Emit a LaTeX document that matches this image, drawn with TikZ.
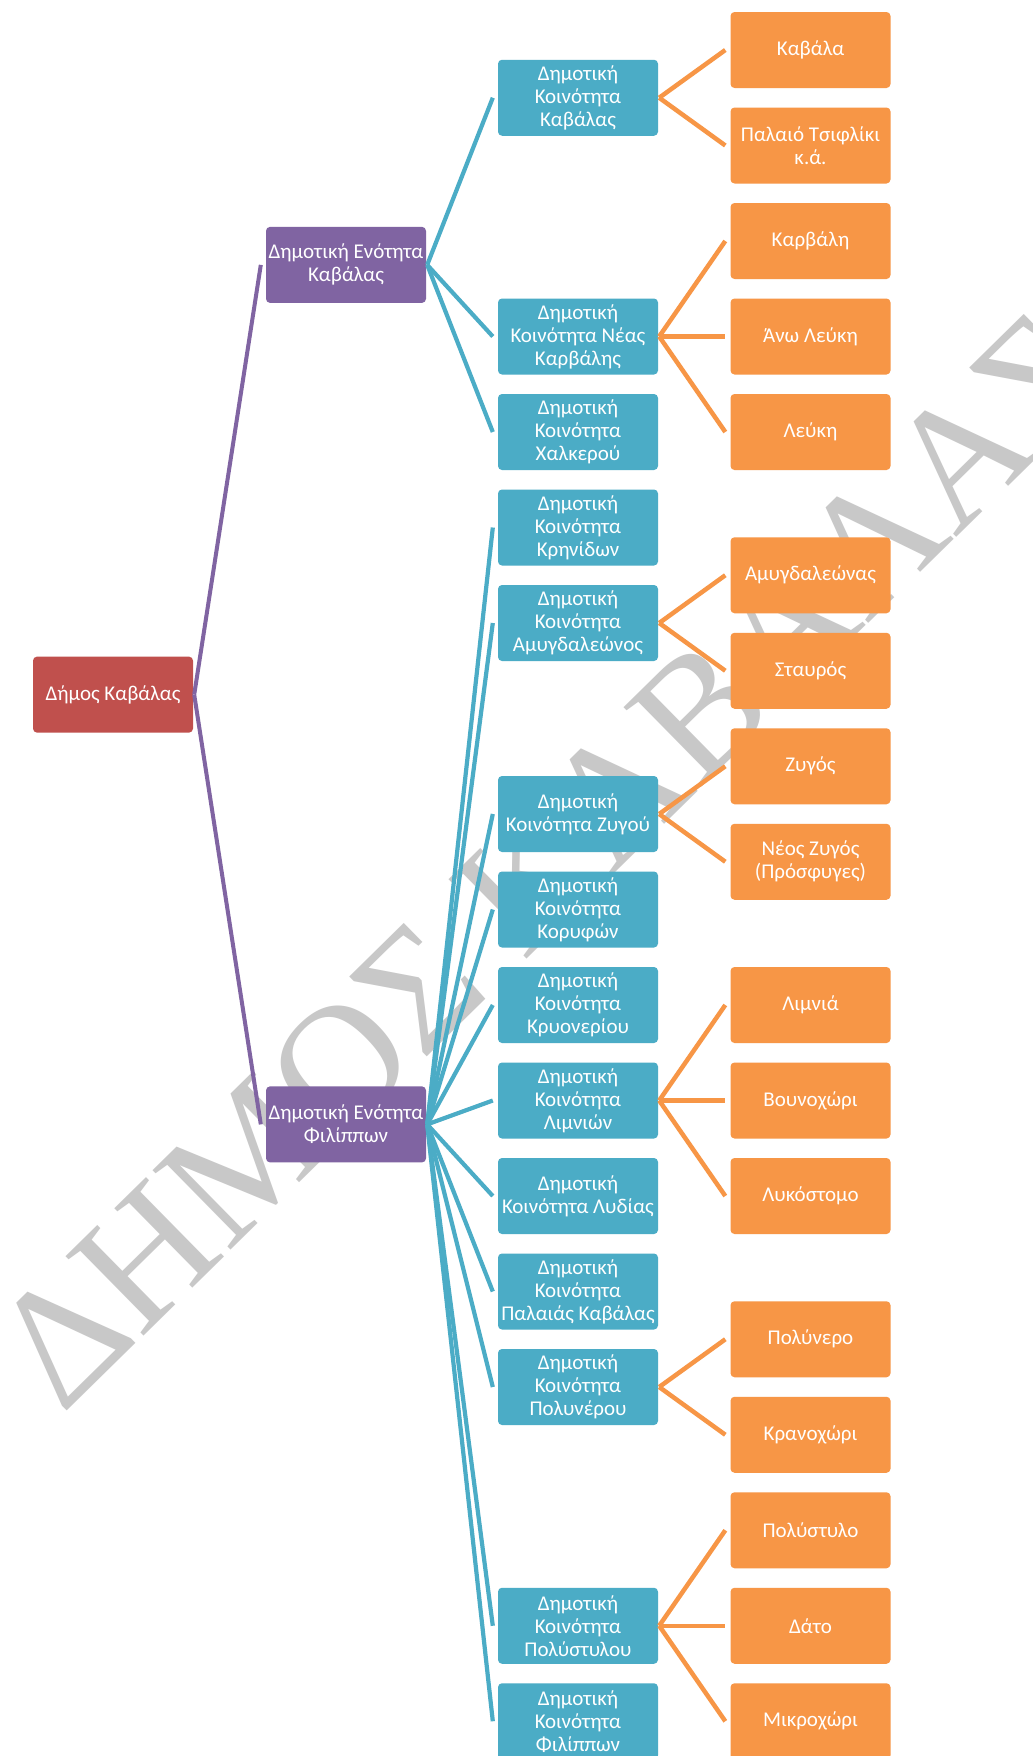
\documentclass[tikz,border=0pt]{standalone}
\usepackage{fontspec}
\setmainfont{Carlito}
\newfontfamily\wmfont{Liberation Serif}
\definecolor{cRoot}{HTML}{C0504D}
\definecolor{cPur}{HTML}{8064A2}
\definecolor{cTeal}{HTML}{4BACC6}
\definecolor{cOra}{HTML}{F79646}
\definecolor{cWm}{HTML}{C8C8C8}
\begin{document}
\begin{tikzpicture}[x=1pt,y=-1pt,
  box/.style={rounded corners=4pt, minimum width=160pt, minimum height=76pt, inner sep=1pt,
    text=white, align=center, font=\fontsize{21}{23}\selectfont},
  rootbox/.style={box, fill=cRoot},
  purbox/.style={box, fill=cPur},
  tealbox/.style={box, fill=cTeal},
  orabox/.style={box, fill=cOra},
  purline/.style={draw=cPur, line width=4pt},
  tealline/.style={draw=cTeal, line width=4.2pt},
  oraline/.style={draw=cOra, line width=4.5pt},
  wm/.style={text=cWm, font=\wmfont\fontsize{170}{170}\selectfont, inner sep=0pt}
]
\useasboundingbox (0,0) rectangle (1033,1756);
\fill[white] (0,0) rectangle (1033,1756);
% watermark
\node[wm, rotate=44.5, anchor=base west] (wmark) at (62,1416) {ΔΗΜΟΣ ΚΑΒΑΛΑΣ};
% nodes
\def\sy#1{50+95.5*#1}
\node[rootbox] (root) at (113,{\sy{6.75}}) {Δήμος Καβάλας};
\node[purbox] (pk) at (346,{\sy{2.25}}) {Δημοτική Ενότητα\\Καβάλας};
\node[purbox] (pf) at (346,{\sy{11.25}}) {Δημοτική Ενότητα\\Φιλίππων};
\node[tealbox] (t1) at (578,{\sy{0.5}}) {Δημοτική\\Κοινότητα\\Καβάλας};
\node[tealbox] (t2) at (578,{\sy{3}}) {Δημοτική\\Κοινότητα Νέας\\Καρβάλης};
\node[tealbox] (t3) at (578,{\sy{4}}) {Δημοτική\\Κοινότητα\\Χαλκερού};
\node[tealbox] (t4) at (578,{\sy{5}}) {Δημοτική\\Κοινότητα\\Κρηνίδων};
\node[tealbox] (t5) at (578,{\sy{6}}) {Δημοτική\\Κοινότητα\\Αμυγδαλεώνος};
\node[tealbox] (t6) at (578,{\sy{8}}) {Δημοτική\\Κοινότητα Ζυγού};
\node[tealbox] (t7) at (578,{\sy{9}}) {Δημοτική\\Κοινότητα\\Κορυφών};
\node[tealbox] (t8) at (578,{\sy{10}}) {Δημοτική\\Κοινότητα\\Κρυονερίου};
\node[tealbox] (t9) at (578,{\sy{11}}) {Δημοτική\\Κοινότητα\\Λιμνιών};
\node[tealbox] (t10) at (578,{\sy{12}}) {Δημοτική\\Κοινότητα Λυδίας};
\node[tealbox] (t11) at (578,{\sy{13}}) {Δημοτική\\Κοινότητα\\Παλαιάς Καβάλας};
\node[tealbox] (t12) at (578,{\sy{14}}) {Δημοτική\\Κοινότητα\\Πολυνέρου};
\node[tealbox] (t13) at (578,{\sy{16.5}}) {Δημοτική\\Κοινότητα\\Πολύστυλου};
\node[tealbox] (t14) at (578,{\sy{17.5}}) {Δημοτική\\Κοινότητα\\Φιλίππων};
\node[orabox] (o1) at (810.5,{\sy{0}}) {Καβάλα};
\node[orabox] (o2) at (810.5,{\sy{1}}) {Παλαιό Τσιφλίκι\\κ.ά.};
\node[orabox] (o3) at (810.5,{\sy{2}}) {Καρβάλη};
\node[orabox] (o4) at (810.5,{\sy{3}}) {Άνω Λεύκη};
\node[orabox] (o5) at (810.5,{\sy{4}}) {Λεύκη};
\node[orabox] (o6) at (810.5,{\sy{5.5}}) {Αμυγδαλεώνας};
\node[orabox] (o7) at (810.5,{\sy{6.5}}) {Σταυρός};
\node[orabox] (o8) at (810.5,{\sy{7.5}}) {Ζυγός};
\node[orabox] (o9) at (810.5,{\sy{8.5}}) {Νέος Ζυγός\\(Πρόσφυγες)};
\node[orabox] (o10) at (810.5,{\sy{10}}) {Λιμνιά};
\node[orabox] (o11) at (810.5,{\sy{11}}) {Βουνοχώρι};
\node[orabox] (o12) at (810.5,{\sy{12}}) {Λυκόστομο};
\node[orabox] (o13) at (810.5,{\sy{13.5}}) {Πολύνερο};
\node[orabox] (o14) at (810.5,{\sy{14.5}}) {Κρανοχώρι};
\node[orabox] (o15) at (810.5,{\sy{15.5}}) {Πολύστυλο};
\node[orabox] (o16) at (810.5,{\sy{16.5}}) {Δάτο};
\node[orabox] (o17) at (810.5,{\sy{17.5}}) {Μικροχώρι};
% connectors
\foreach \c in {pk,pf}
  \draw[purline] ([xshift=1pt]root.east) -- ([xshift=-5pt]\c.west);
\foreach \c in {t1,t2,t3}
  \draw[tealline] ([xshift=1pt]pk.east) -- ([xshift=-5pt]\c.west);
\foreach \c in {t4,t5,t6,t7,t8,t9,t10,t11,t12,t13,t14}
  \draw[tealline] ([xshift=1pt]pf.east) -- ([xshift=-5pt]\c.west);
\foreach \p/\c in {t1/o1,t1/o2,t2/o3,t2/o4,t2/o5,t5/o6,t5/o7,t6/o8,t6/o9,t9/o10,t9/o11,t9/o12,t12/o13,t12/o14,t13/o15,t13/o16,t13/o17}
  \draw[oraline] ([xshift=1pt]\p.east) -- ([xshift=-5pt]\c.west);
\end{tikzpicture}
\end{document}
